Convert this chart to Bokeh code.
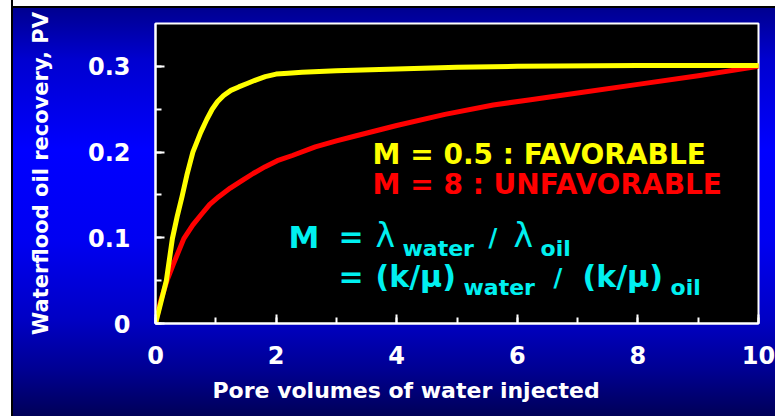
from bokeh.plotting import figure
from bokeh.models import Range1d, SingleIntervalTicker, Label, Title
from bokeh.embed import file_html
from bokeh.resources import INLINE

# ---- data ----
pv_fav = [0, 0.08, 0.18, 0.28, 0.36, 0.44, 0.52, 0.62, 0.75, 0.85, 0.94, 1.03, 1.13, 1.25, 1.38, 1.52, 1.66, 1.82, 2.0, 2.2, 2.43, 3.0, 4.0, 5.0, 6.0, 8.0, 10.0]
rec_fav = [0, 0.022, 0.05, 0.099, 0.125, 0.148, 0.173, 0.200, 0.223, 0.238, 0.250, 0.259, 0.266, 0.272, 0.276, 0.280, 0.284, 0.288, 0.291, 0.292, 0.293, 0.295, 0.297, 0.299, 0.300, 0.301, 0.301]

pv_unf = [0, 0.08, 0.19, 0.30, 0.47, 0.62, 0.77, 0.90, 1.05, 1.24, 1.44, 1.62, 1.82, 2.02, 2.27, 2.65, 3.0, 3.33, 4.0, 4.8, 5.6, 6.22, 7.0, 8.0, 9.0, 10.0]
rec_unf = [0, 0.025, 0.05, 0.070, 0.099, 0.115, 0.128, 0.139, 0.148, 0.158, 0.167, 0.175, 0.183, 0.190, 0.196, 0.206, 0.213, 0.219, 0.231, 0.244, 0.255, 0.261, 0.269, 0.279, 0.289, 0.300]

x_ticks = [0, 2, 4, 6, 8, 10]
y_ticks = [0, 0.1, 0.2, 0.3]
y_tick_labels = ["0", "0.1", "0.2", "0.3"]

x_label = "Pore volumes of water injected"
y_label = "Waterflood oil recovery, PV"
legend_fav = "M = 0.5 : FAVORABLE"
legend_unf = "M = 8 : UNFAVORABLE"

FONT = "DejaVu Sans"
WHITE = "#FFFFFF"
YELLOW = "#FFFF00"
RED = "#FF0000"
CYAN = "#00F0F0"

p = figure(width=775, height=416, output_backend="svg", toolbar_location=None,
           x_range=Range1d(0, 10), y_range=Range1d(0, 0.35),
           min_border_left=155, min_border_right=17, min_border_top=23, min_border_bottom=93)

p.styles = {
    "background": (
        "linear-gradient(to right, #FFFFFF 0px, #FFFFFF 11px, #000000 11px, #000000 13px, transparent 13px),"
        "linear-gradient(to bottom, #FFFFFF 0px, #FFFFFF 6px, #000000 6px, #000000 8px, transparent 8px),"
        "linear-gradient(to bottom, #000090 8px, #0000D0 60px, #0000FF 150px, #0000F2 240px, "
        "#0000C4 320px, #000092 370px, #000058 416px)"
    )
}
p.border_fill_color = None
p.background_fill_color = "#000000"
p.outline_line_color = WHITE
p.outline_line_width = 2
p.grid.visible = False

p.xaxis.ticker = SingleIntervalTicker(interval=2, num_minor_ticks=2)
p.yaxis.ticker = SingleIntervalTicker(interval=0.1, num_minor_ticks=2)
p.yaxis.major_label_overrides = {t: s for t, s in zip(y_ticks, y_tick_labels)}

for ax in (p.xaxis[0], p.yaxis[0]):
    ax.axis_line_color = WHITE
    ax.axis_line_width = 2
    ax.major_tick_line_color = WHITE
    ax.major_tick_line_width = 2
    ax.minor_tick_line_color = WHITE
    ax.minor_tick_line_width = 2
    ax.major_tick_in = 9
    ax.major_tick_out = 0
    ax.minor_tick_in = 6
    ax.minor_tick_out = 0
    ax.major_label_text_color = WHITE
    ax.major_label_text_font = FONT
    ax.major_label_text_font_style = "bold"
    ax.major_label_text_font_size = "24px"

p.xaxis.major_label_standoff = 22
p.yaxis.major_label_standoff = 25

p.yaxis.axis_label = y_label
p.yaxis.axis_label_text_color = WHITE
p.yaxis.axis_label_text_font = FONT
p.yaxis.axis_label_text_font_style = "bold"
p.yaxis.axis_label_text_font_size = "21px"
p.yaxis.axis_label_standoff = 32

# x axis title, placed below the axis and shifted left as in the reference
xt = Title(text=x_label, align="left", vertical_align="middle", offset=57, text_color=WHITE,
           text_font=FONT, text_font_style="bold", text_font_size="22px", standoff=21)
p.add_layout(xt, "below")

# curves
p.line(pv_unf, rec_unf, line_color=RED, line_width=5, line_join="round", line_cap="round")
p.line(pv_fav, rec_fav, line_color=YELLOW, line_width=5, line_join="round", line_cap="round")

def lab(x, y, text, color, size, style="bold"):
    p.add_layout(Label(x=x, y=y, text=text, text_color=color, text_font=FONT,
                       text_font_size=size, text_font_style=style,
                       text_align="left", text_baseline="middle"))

# legend texts
lab(3.60, 0.1972, legend_fav, YELLOW, "28px")
lab(3.60, 0.1622, legend_unf, RED, "28px")

# mobility ratio equation
lab(2.206, 0.1015, "M", CYAN, "31px")
lab(3.035, 0.1015, "=", CYAN, "30px")
lab(3.648, 0.1030, "\u03bb", CYAN, "33px", style="normal")
lab(4.096, 0.0875, "water", CYAN, "22px")
lab(5.522, 0.1000, "/", CYAN, "24px")
lab(5.937, 0.1030, "\u03bb", CYAN, "33px", style="normal")
lab(6.385, 0.0875, "oil", CYAN, "22px")

lab(3.035, 0.0543, "=", CYAN, "30px")
lab(3.648, 0.0543, "(k/\u03bc)", CYAN, "30px")
lab(5.108, 0.0415, "water", CYAN, "22px")
lab(6.600, 0.0530, "/", CYAN, "24px")
lab(7.081, 0.0543, "(k/\u03bc)", CYAN, "30px")
lab(8.541, 0.0415, "oil", CYAN, "22px")

open("out.html", "w").write(file_html(p, INLINE))
